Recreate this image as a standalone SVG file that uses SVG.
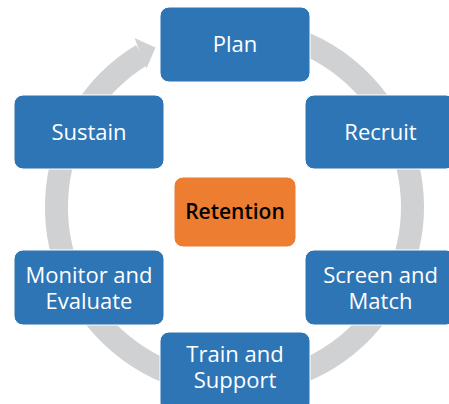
<svg xmlns="http://www.w3.org/2000/svg" width="449" height="404" viewBox="0 0 449 404">
<style>
.box{fill:#2E75B6;stroke:#ffffff;stroke-width:1}
.ctr{fill:#ED7D31;stroke:#ffffff;stroke-width:1}
.t{font-family:"Open Sans","Noto Sans",sans-serif;font-size:22px;fill:#ffffff;text-anchor:middle}
.tc{font-family:"Open Sans","Noto Sans",sans-serif;font-size:21px;font-weight:600;fill:#000000;text-anchor:middle}
.ring{fill:none;stroke:#D0D1D3;stroke-width:23}
</style>
<rect width="449" height="404" fill="#ffffff"/>
<g id="connectors">
<path class="ring" d="M 203.6 31.7 A 178 178 0 1 1 142.0 54.9"/>
<polygon points="134.5,38 146.5,68.5 155.5,47.5" fill="#D0D1D3"/>
</g>
<g id="plan"><rect class="box" x="160" y="7" width="150" height="75" rx="9"/><text class="t" x="235" y="52">Plan</text></g>
<g id="recruit"><rect class="box" x="305" y="95" width="150" height="74" rx="9"/><text class="t" x="380.5" y="140">Recruit</text></g>
<g id="screen"><rect class="box" x="305" y="250" width="150" height="75" rx="9"/><text class="t" x="380.5" y="283">Screen and</text><text class="t" x="380.5" y="309">Match</text></g>
<g id="train"><rect class="box" x="160" y="332" width="150" height="80" rx="9"/><text class="t" x="235" y="362">Train and</text><text class="t" x="235" y="388">Support</text></g>
<g id="monitor"><rect class="box" x="14" y="250" width="150" height="75" rx="9"/><text class="t" x="89" y="283">Monitor and</text><text class="t" x="89" y="309">Evaluate</text></g>
<g id="sustain"><rect class="box" x="14" y="95" width="150" height="74" rx="9"/><text class="t" x="89" y="140">Sustain</text></g>
<g id="retention"><rect class="ctr" x="174" y="177" width="122" height="70" rx="9"/><text class="tc" x="235" y="219">Retention</text></g>
</svg>
